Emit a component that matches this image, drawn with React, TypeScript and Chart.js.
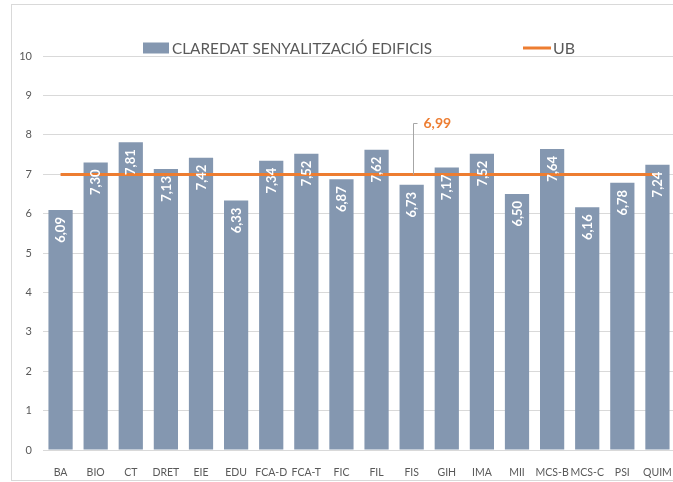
import React, { useEffect, useRef } from "react";
import { Chart, registerables } from "chart.js";

Chart.register(...registerables);

const categories = ["BA", "BIO", "CT", "DRET", "EIE", "EDU", "FCA-D", "FCA-T", "FIC", "FIL", "FIS", "GIH", "IMA", "MII", "MCS-B", "MCS-C", "PSI", "QUIM"];
const barValues = [6.09, 7.3, 7.81, 7.13, 7.42, 6.33, 7.34, 7.52, 6.87, 7.62, 6.73, 7.17, 7.52, 6.5, 7.64, 6.16, 6.78, 7.24];
const ubValue = 6.99;
const ubValues = categories.map(() => ubValue);
const barLabel = "CLAREDAT SENYALITZACIÓ EDIFICIS";
const lineLabel = "UB";
const yTicks = [0, 1, 2, 3, 4, 5, 6, 7, 8, 9, 10];

const BAR_COLOR = "#8497B0";
const LINE_COLOR = "#ED7D31";
const TEXT_COLOR = "#595959";
const GRID_COLOR = "#D9D9D9";
const FONT = "Lato, 'Noto Sans', sans-serif";

const fmt = (v: number) => v.toFixed(2).replace(".", ",");

const customPlugin = {
  id: "custom",
  afterDatasetsDraw(chart: any) {
    const ctx = chart.ctx;
    const barMeta = chart.getDatasetMeta(1);
    ctx.save();
    ctx.fillStyle = "#FFFFFF";
    ctx.font = `bold 13px ${FONT}`;
    ctx.textAlign = "right";
    ctx.textBaseline = "middle";
    barMeta.data.forEach((el: any, i: number) => {
      ctx.save();
      ctx.translate(el.x + 0.5, el.y + 7);
      ctx.rotate(-Math.PI / 2);
      ctx.fillText(fmt(barValues[i]), 0, 0);
      ctx.restore();
    });
    ctx.restore();

    // leader label for UB
    const xs = chart.scales.x;
    const ys = chart.scales.y;
    const idx = categories.indexOf("FIS");
    const lx = Math.round(xs.getPixelForValue(idx)) + 1.5;
    const yTop = Math.round(ys.getPixelForValue(8.3)) + 0.5;
    const yLine = ys.getPixelForValue(ubValue);
    ctx.save();
    ctx.strokeStyle = "#A6A6A6";
    ctx.lineWidth = 1;
    ctx.beginPath();
    ctx.moveTo(lx + 4, yTop);
    ctx.lineTo(lx, yTop);
    ctx.lineTo(lx, yLine);
    ctx.stroke();
    ctx.fillStyle = LINE_COLOR;
    ctx.font = `bold 14px ${FONT}`;
    ctx.textAlign = "left";
    ctx.textBaseline = "middle";
    ctx.fillText(fmt(ubValue), lx + 10, yTop);
    ctx.restore();

    // legend
    ctx.save();
    const ly = 43;
    ctx.fillStyle = BAR_COLOR;
    ctx.fillRect(131, ly - 5.5, 26, 11);
    ctx.fillStyle = TEXT_COLOR;
    ctx.font = `16px 'Liberation Sans Narrow', ${FONT}`;
    ctx.textAlign = "left";
    ctx.textBaseline = "middle";
    ctx.fillText(barLabel, 160, ly + 0.5, 260);
    ctx.strokeStyle = LINE_COLOR;
    ctx.lineWidth = 3;
    ctx.beginPath();
    ctx.moveTo(511, ly);
    ctx.lineTo(539, ly);
    ctx.stroke();
    ctx.fillText(lineLabel, 541, ly + 0.5, 22);
    ctx.restore();
  },
};

export default function App() {
  const ref = useRef<HTMLCanvasElement | null>(null);
  useEffect(() => {
    document.body.style.margin = "0";
    document.body.style.overflow = "hidden";
    if (!ref.current) return;
    const chart = new Chart(ref.current, {
      type: "bar",
      data: {
        labels: categories,
        datasets: [
          {
            type: "line",
            label: lineLabel,
            data: ubValues,
            borderColor: LINE_COLOR,
            backgroundColor: LINE_COLOR,
            borderWidth: 3,
            pointRadius: 0,
            order: 0,
          } as any,
          {
            type: "bar",
            label: barLabel,
            data: barValues,
            backgroundColor: BAR_COLOR,
            barPercentage: 0.69,
            categoryPercentage: 1,
            order: 1,
          },
        ],
      },
      options: {
        responsive: true,
        maintainAspectRatio: false,
        animation: false,
        layout: { padding: { top: 51, right: 15, left: 0, bottom: 0 } },
        plugins: {
          legend: { display: false },
          tooltip: { enabled: false },
          title: { display: false },
        },
        scales: {
          x: {
            grid: { display: false },
            border: { display: true, color: GRID_COLOR },
            ticks: {
              autoSkip: false,
              maxRotation: 0,
              minRotation: 0,
              color: TEXT_COLOR,
              font: { family: FONT, size: 10.5 },
              padding: 8,
            },
            afterFit: (s: any) => {
              s.height = 30;
            },
          },
          y: {
            min: 0,
            max: 10,
            afterBuildTicks: (s: any) => {
              s.ticks = yTicks.map((v) => ({ value: v }));
            },
            grid: { color: GRID_COLOR, drawTicks: false, lineWidth: 1 },
            border: { display: false },
            ticks: {
              color: TEXT_COLOR,
              font: { family: FONT, size: 11 },
              padding: 11,
            },
            afterFit: (s: any) => {
              s.width = 31;
            },
          },
        },
      },
      plugins: [customPlugin],
    });
    return () => chart.destroy();
  }, []);
  return (
    <div style={{ width: 673, height: 482, overflow: "hidden", position: "relative", background: "#FFFFFF" }}>
      <div style={{ position: "absolute", left: 11, top: 4, width: 680, height: 477, border: "1px solid #D9D9D9", boxSizing: "border-box" }}>
        <canvas ref={ref} />
      </div>
    </div>
  );
}
